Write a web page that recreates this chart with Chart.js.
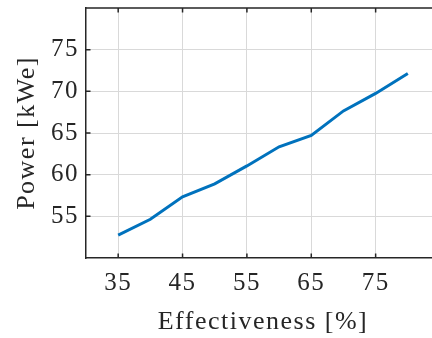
<!DOCTYPE html>
<html>
<head>
<meta charset="utf-8">
<script src="https://cdn.jsdelivr.net/npm/chart.js@4"></script>
<style>
  html, body { margin: 0; padding: 0; background: #fff; overflow: hidden; width: 432px; height: 338px; }
  #wrap { width: 440px; height: 338px; }
</style>
</head>
<body>
<div id="wrap"><canvas id="c" width="440" height="338"></canvas></div>
<script>
// Generated electric power versus heat-exchanger effectiveness
const effectiveness = [35, 40, 45, 50, 55, 60, 65, 70, 75, 80];
const powerKWe = [52.75, 54.65, 57.35, 58.9, 61.05, 63.35, 64.7, 67.65, 69.75, 72.15];
const xTicks = [35, 45, 55, 65, 75];
const yTicks = [55, 60, 65, 70, 75];

const AXIS_COLOR = '#262626';
const GRID_COLOR = '#d9d9d9';
const FONT_FAMILY = '"Liberation Serif", "Times New Roman", serif';
const SPACING = '1.5px';

// Closed box on top plus inward tick marks on bottom, top and left edges
const boxAndTicks = {
  id: 'boxAndTicks',
  beforeInit(chart) { chart.ctx.letterSpacing = SPACING; },
  beforeUpdate(chart) { chart.ctx.letterSpacing = SPACING; },
  beforeDraw(chart) { chart.ctx.letterSpacing = SPACING; },
  afterDatasetsDraw(chart) {
    const { ctx, chartArea: a, scales } = chart;
    const len = 4.5;
    ctx.save();
    ctx.strokeStyle = AXIS_COLOR;
    ctx.lineWidth = 1.5;
    ctx.beginPath();
    ctx.moveTo(a.left, a.top);
    ctx.lineTo(a.right, a.top);
    xTicks.forEach(v => {
      const px = scales.x.getPixelForValue(v);
      ctx.moveTo(px, a.bottom);
      ctx.lineTo(px, a.bottom - len);
      ctx.moveTo(px, a.top);
      ctx.lineTo(px, a.top + len);
    });
    yTicks.forEach(v => {
      const py = scales.y.getPixelForValue(v);
      ctx.moveTo(a.left, py);
      ctx.lineTo(a.left + len, py);
    });
    ctx.stroke();
    ctx.restore();
  }
};

new Chart(document.getElementById('c'), {
  type: 'line',
  data: {
    datasets: [{
      data: effectiveness.map((x, i) => ({ x, y: powerKWe[i] })),
      borderColor: '#0072BD',
      borderWidth: 3,
      pointRadius: 0,
      tension: 0,
      fill: false
    }]
  },
  options: {
    responsive: false,
    animation: false,
    devicePixelRatio: 1,
    layout: { padding: { top: 8, left: 0, right: 0, bottom: 0 } },
    plugins: { legend: { display: false }, tooltip: { enabled: false } },
    scales: {
      x: {
        type: 'linear',
        min: 30,
        max: 85,
        afterBuildTicks: s => { s.ticks = xTicks.map(v => ({ value: v })); },
        afterFit: s => { s.height = 80; s.paddingLeft = 0; s.paddingRight = 0; },
        grid: { color: GRID_COLOR, lineWidth: 1, drawTicks: false },
        border: { display: true, color: AXIS_COLOR, width: 1.5 },
        ticks: { color: AXIS_COLOR, padding: 10, font: { family: FONT_FAMILY, size: 25 }, maxRotation: 0 },
        title: {
          display: true,
          text: 'Effectiveness [%]',
          color: AXIS_COLOR,
          font: { family: FONT_FAMILY, size: 26 },
          padding: { top: 10, bottom: 0 }
        }
      },
      y: {
        type: 'linear',
        min: 50,
        max: 80,
        afterBuildTicks: s => { s.ticks = yTicks.map(v => ({ value: v })); },
        afterFit: s => { s.width = 86; s.paddingTop = 0; s.paddingBottom = 0; },
        grid: { color: GRID_COLOR, lineWidth: 1, drawTicks: false },
        border: { display: true, color: AXIS_COLOR, width: 1.5 },
        ticks: { color: AXIS_COLOR, padding: 7, font: { family: FONT_FAMILY, size: 25 } },
        title: {
          display: true,
          text: 'Power [kWe]',
          color: AXIS_COLOR,
          font: { family: FONT_FAMILY, size: 26 },
          padding: { top: 12, bottom: 0 }
        }
      }
    }
  },
  plugins: [boxAndTicks]
});
</script>
</body>
</html>
